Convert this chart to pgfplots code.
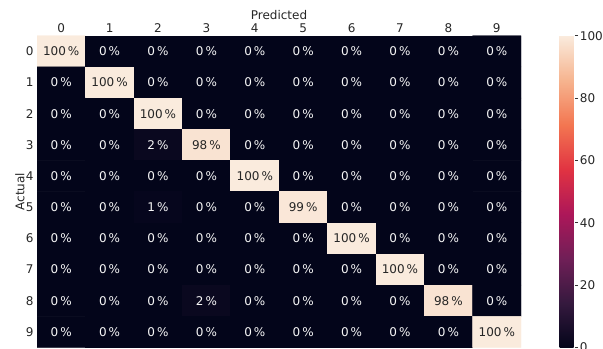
\documentclass[border=0pt]{standalone}
\usepackage{pgfplots}
\pgfplotsset{compat=1.18}
\usepackage{pgfplotstable}
\usepackage{fontspec}
\setmainfont{DejaVu Sans}
\definecolor{darktext}{gray}{0.15}
\definecolor{lighttext}{gray}{0.97}
\pgfplotstableread{
x y z
0 0 100
1 0 0
2 0 0
3 0 0
4 0 0
5 0 0
6 0 0
7 0 0
8 0 0
9 0 0
0 1 0
1 1 100
2 1 0
3 1 0
4 1 0
5 1 0
6 1 0
7 1 0
8 1 0
9 1 0
0 2 0
1 2 0
2 2 100
3 2 0
4 2 0
5 2 0
6 2 0
7 2 0
8 2 0
9 2 0
0 3 0
1 3 0
2 3 2
3 3 98
4 3 0
5 3 0
6 3 0
7 3 0
8 3 0
9 3 0
0 4 0
1 4 0
2 4 0
3 4 0
4 4 100
5 4 0
6 4 0
7 4 0
8 4 0
9 4 0
0 5 0
1 5 0
2 5 1
3 5 0
4 5 0
5 5 99
6 5 0
7 5 0
8 5 0
9 5 0
0 6 0
1 6 0
2 6 0
3 6 0
4 6 0
5 6 0
6 6 100
7 6 0
8 6 0
9 6 0
0 7 0
1 7 0
2 7 0
3 7 0
4 7 0
5 7 0
6 7 0
7 7 100
8 7 0
9 7 0
0 8 0
1 8 0
2 8 0
3 8 2
4 8 0
5 8 0
6 8 0
7 8 0
8 8 98
9 8 0
0 9 0
1 9 0
2 9 0
3 9 0
4 9 0
5 9 0
6 9 0
7 9 0
8 9 0
9 9 100
}\cmtable
\begin{document}
\begin{tikzpicture}[font=\fontsize{12bp}{14bp}\selectfont]
\begin{axis}[
  at={(37bp,-35.7bp)}, anchor=north west,
  scale only axis, width=484bp, height=311.8bp,
  xmin=-0.5, xmax=9.5, ymin=-0.5, ymax=9.5, y dir=reverse,
  enlargelimits=false,
  axis line style={draw=none},
  major tick length=0pt,
  xtick={0,...,9}, ytick={0,...,9},
  xticklabel pos=upper,
  /pgf/number format/assume math mode=true,
  tick label style={font=\fontsize{12bp}{14bp}\selectfont, text=black!85},
  xlabel={Predicted}, ylabel={Actual},
  xlabel style={at={(axis description cs:0.5,1)}, anchor=base, yshift=16.3bp, text=black!85},
  ylabel style={at={(axis description cs:0,0.5)}, anchor=center, rotate=0, yshift=17bp, text=black!85},
  colormap={rocket}{rgb255(0)=(3,5,26) rgb255(1)=(53,25,62) rgb255(2)=(112,31,87) rgb255(3)=(173,23,89) rgb255(4)=(225,51,66) rgb255(5)=(243,118,81) rgb255(6)=(246,180,143) rgb255(7)=(250,235,221)},
  point meta min=0, point meta max=100,
  colorbar,
  colorbar style={
    at={(parent axis.north east)}, anchor=north west, xshift=30bp,
    scale only axis, width=15.7bp, height=311.8bp,
    ytick={0,20,...,100},
    axis line style={draw=none},
    major tick length=3bp, tick align=outside,
    ytick pos=right, yticklabel pos=right,
    major tick style={draw=black!80, line width=0.6pt},
    yticklabel style={inner sep=1.5bp, font=\fontsize{12bp}{14bp}\selectfont, text=black!85},
    /pgf/number format/assume math mode=true,
  },
]
\addplot[matrix plot*, mesh/cols=10, point meta=explicit] table[x=x, y=y, meta=z] {\cmtable};
\addplot[draw=none, mark=none, point meta=explicit,
  x filter/.expression={\thisrow{z}>50 ? x : nan},
  unbounded coords=discard,
  nodes near coords={\pgfmathprintnumber{\pgfplotspointmeta}\,\%},
  every node near coord/.append style={font=\fontsize{12bp}{14bp}\selectfont, anchor=center, inner sep=0pt, text=darktext},
] table[x=x, y=y, meta=z] {\cmtable};
\addplot[draw=none, mark=none, point meta=explicit,
  x filter/.expression={\thisrow{z}>50 ? nan : x},
  unbounded coords=discard,
  nodes near coords={\pgfmathprintnumber{\pgfplotspointmeta}\,\%},
  every node near coord/.append style={font=\fontsize{12bp}{14bp}\selectfont, anchor=center, inner sep=0pt, text=lighttext},
] table[x=x, y=y, meta=z] {\cmtable};
\end{axis}
\pgfresetboundingbox
\path (0,0) rectangle (603bp,-349bp);
\end{tikzpicture}
\end{document}
